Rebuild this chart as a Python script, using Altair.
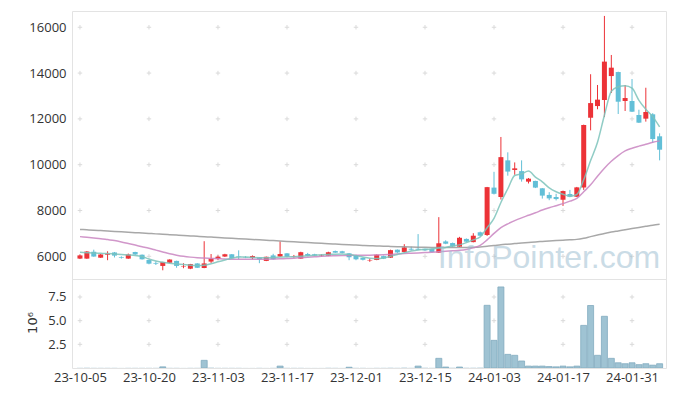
import altair as alt
import pandas as pd

# ---------------- data ----------------
opens = [5900,5900,6200,5940,6070,6170,5960,5900,6190,6070,
         5840,5710,5580,5720,5800,5550,5460,5690,5490,5770,
         5890,5990,6090,6000,5970,5930,5950,5800,6040,5990,
         6130,5990,5900,6100,6090,6030,6020,6230,6220,6130,
         6040,5930,5820,5840,6010,5940,6290,6190,6330,6330,
         6330,6330,6160,6650,6580,6420,6760,6620,7050,6930,
         9000,8590,10190,9770,9720,9260,9290,8970,8680,8590,
         8470,8720,8600,9000,12050,12560,12825,13870,14045,12780,
         12780,12170,12010,12200,11240]
closes = [6040,6210,5990,6080,6120,6030,5930,6080,6080,5870,
          5680,5680,5750,5860,5580,5570,5660,5500,5690,5900,
          5980,6090,5910,5980,5950,6010,5870,5980,5870,6100,
          5990,6010,6180,6020,6030,6050,6180,6160,6150,5960,
          5870,5850,5840,6070,5900,6270,6170,6390,6290,6290,
          6260,6190,6570,6550,6430,6810,6640,6900,6900,9020,
          8730,10330,9700,9840,9360,9390,9000,8650,8530,8500,
          8850,8600,9010,11730,12690,12840,14500,14236,12750,12910,
          12314,11835,12300,11120,10655]
highs = [6080,6230,6290,6100,6220,6190,6000,6120,6200,6080,
         5850,5780,5760,5870,5810,5700,5670,5700,6660,6100,
         6040,6110,6100,6260,6010,6040,5960,5990,6110,6650,
         6140,6060,6200,6150,6110,6090,6200,6250,6240,6140,
         6050,5950,5900,6080,6030,6290,6300,6530,6420,6970,
         6340,6340,7710,6700,6600,6850,6780,7010,7080,9030,
         9690,11210,10540,10100,10190,9420,9300,8980,8800,8730,
         8870,8900,9030,11750,13950,13480,16494,14790,14060,13480,
         13740,12400,13360,12250,11370]
lows = [5880,5890,5980,5930,5830,5950,5900,5890,6060,5860,
        5650,5620,5390,5700,5500,5480,5440,5490,5480,5710,
        5830,5970,5900,5870,5920,5870,5700,5790,5860,5980,
        5980,5940,5890,6000,6010,5990,6010,6150,6130,5830,
        5830,5820,5760,5830,5880,5930,6150,6170,6250,6270,
        6240,6170,6150,6530,6400,6410,6620,6610,6880,6890,
        8700,8480,9520,9560,9260,9180,8980,8520,8450,8440,
        8200,8580,8590,8900,11500,12420,12080,13130,12214,12345,
        12300,11820,11880,10950,10190]
volume_m = [0.02,0.03,0.02,0.02,0.02,0.02,0.01,0.02,0.02,0.02,
            0.02,0.02,0.12,0.02,0.02,0.01,0.02,0.02,0.81,0.04,
            0.02,0.02,0.02,0.02,0.01,0.01,0.02,0.01,0.02,0.20,
            0.02,0.02,0.02,0.01,0.01,0.01,0.02,0.02,0.01,0.08,
            0.02,0.02,0.01,0.02,0.02,0.03,0.02,0.04,0.02,0.20,
            0.03,0.02,1.02,0.10,0.03,0.10,0.03,0.03,0.04,6.62,
            2.92,8.56,1.44,1.34,0.74,0.20,0.20,0.20,0.15,0.12,
            0.20,0.12,0.20,4.50,6.60,1.34,5.46,1.02,0.55,0.45,
            0.55,0.35,0.45,0.30,0.45]
ma5 = [6180,6160,6140,6130,6120,6100,6080,6060,6040,5990,
       5880,5800,5740,5700,5670,5640,5610,5600,5610,5680,
       5760,5840,5920,5970,5970,5950,5940,5935,5945,5965,
       5980,5985,6000,6020,6045,6065,6080,6095,6100,6080,
       6030,5970,5920,5900,5930,6000,6080,6160,6230,6280,
       6300,6320,6360,6390,6450,6500,6600,6720,6850,7250,
       7660,8350,8950,9530,9600,9720,9460,9250,8990,8820,
       8710,8630,8700,9340,10180,10980,12160,13200,13400,13450,
       13340,12810,12420,12100,11650]
ma20 = [6860,6830,6800,6770,6730,6690,6630,6560,6490,6420,
        6350,6270,6190,6110,6050,6000,5965,5940,5925,5910,
        5895,5880,5875,5872,5870,5870,5870,5872,5880,5890,
        5905,5920,5940,5960,5980,6000,6015,6025,6035,6040,
        6045,6045,6050,6060,6070,6085,6100,6120,6135,6150,
        6165,6180,6200,6220,6240,6260,6300,6370,6480,6720,
        7000,7250,7420,7560,7680,7790,7900,8020,8120,8210,
        8300,8410,8530,8820,9120,9500,9850,10150,10400,10600,
        10720,10810,10890,10980,11040]
ma120 = [7175,7157,7140,7122,7104,7087,7069,7051,7034,7016,
         6998,6980,6963,6945,6927,6910,6892,6874,6857,6839,
         6822,6805,6788,6771,6754,6737,6720,6703,6686,6669,
         6652,6635,6618,6601,6584,6567,6550,6534,6518,6503,
         6490,6477,6465,6453,6442,6432,6422,6413,6405,6397,
         6391,6386,6382,6380,6380,6382,6387,6395,6410,6440,
         6470,6505,6530,6555,6580,6605,6630,6650,6670,6688,
         6705,6720,6740,6790,6860,6930,7000,7060,7110,7160,
         7210,7260,7310,7360,7400]

tick_idx = [0, 10, 20, 30, 40, 50, 60, 70, 80]
tick_labels = ['23-10-05', '23-10-20', '23-11-03', '23-11-17', '23-12-01',
               '23-12-15', '24-01-03', '24-01-17', '24-01-31']
price_ticks = [6000, 8000, 10000, 12000, 14000, 16000]
vol_ticks = [2.5, 5.0, 7.5]
vol_title = "10⁶"
watermark = "InfoPointer.com"

RED = "#ec3237"
BLUE = "#62bfd7"
FONT = "Open Sans"

n = len(opens)
df = pd.DataFrame({"i": list(range(n)), "open": opens, "close": closes,
                   "high": highs, "low": lows, "vol": volume_m})
ma_df = pd.DataFrame({"i": list(range(n)), "ma5": ma5, "ma20": ma20, "ma120": ma120})

grid_p = pd.DataFrame([{"i": a, "v": b} for a in tick_idx for b in price_ticks])
grid_v = pd.DataFrame([{"i": a, "v": b} for a in tick_idx for b in vol_ticks])

xscale = alt.Scale(domain=[-0.43, 84.2], nice=False, zero=False)
pscale = alt.Scale(domain=[5010, 16710], nice=False, zero=False)
vscale = alt.Scale(domain=[0, 9.4], nice=False)

W = 594
color_cond = alt.condition("datum.close >= datum.open", alt.value(RED), alt.value(BLUE))
plus = "M-1,0L1,0M0,-1L0,1"

base = alt.Chart(df)

p_grid = alt.Chart(grid_p).mark_point(shape=plus, size=20, filled=False, strokeWidth=1,
                                      color="#dadada", opacity=1).encode(
    x=alt.X("i:Q", scale=xscale, axis=None),
    y=alt.Y("v:Q", scale=pscale,
            axis=alt.Axis(values=price_ticks, format="d", title=None, labelPadding=6,
                          minExtent=63, maxExtent=63)),
)

def ma_line(field, col):
    return alt.Chart(ma_df).mark_line(color=col, strokeWidth=1.5, opacity=0.85,
                                      interpolate="monotone", clip=True).encode(
        x=alt.X("i:Q", scale=xscale, axis=None),
        y=alt.Y(f"{field}:Q", scale=pscale),
    )

wicks = base.mark_rule(strokeWidth=1, clip=True).encode(
    x=alt.X("i:Q", scale=xscale, axis=None),
    y=alt.Y("low:Q", scale=pscale),
    y2="high:Q",
    color=color_cond,
)
bodies = base.mark_bar(width=5, clip=True).encode(
    x=alt.X("i:Q", scale=xscale, axis=None),
    y=alt.Y("open:Q", scale=pscale),
    y2="close:Q",
    color=color_cond,
)
wm = alt.Chart(pd.DataFrame({"t": [watermark]})).mark_text(
    font="Liberation Sans", fontSize=32, color="#9fc0d2", opacity=0.55,
    align="center", baseline="alphabetic").encode(
    text="t:N", x=alt.value(477), y=alt.value(257))

price = alt.layer(p_grid, wicks, bodies,
                  ma_line("ma120", "#999999"), ma_line("ma20", "#c985c1"),
                  ma_line("ma5", "#7cc3bb"), wm).properties(width=W, height=268)

label_arr = "[" + ",".join(f"'{t}'" for t in tick_labels) + "]"

v_grid = alt.Chart(grid_v).mark_point(shape=plus, size=20, filled=False, strokeWidth=1,
                                      color="#dadada", opacity=1).encode(
    x=alt.X("i:Q", scale=xscale,
            axis=alt.Axis(values=tick_idx, labelExpr=f"{label_arr}[round(datum.value/10)]",
                          title=None, labelPadding=3, labelFlush=False, labelOverlap=False)),
    y=alt.Y("v:Q", scale=vscale,
            axis=alt.Axis(values=vol_ticks, format=".1f", title=None,
                          labelPadding=6, minExtent=30, maxExtent=30)),
)
vbars = base.mark_bar(width=6, color="#9fc3d3", stroke="#82abbf", strokeWidth=0.8,
                      clip=True).encode(
    x=alt.X("i:Q", scale=xscale),
    y=alt.Y("vol:Q", scale=vscale),
    strokeOpacity=alt.condition("datum.vol > 0.05", alt.value(1), alt.value(0)),
)
vtitle = alt.Chart(pd.DataFrame({"t": [vol_title]})).mark_text(
    font="DejaVu Sans", fontSize=13, color="#333", angle=270,
    align="center", baseline="middle").encode(
    text="t:N", x=alt.value(-39), y=alt.value(44))
volume = alt.layer(v_grid, vbars, vtitle).properties(width=W, height=89)

chart = alt.vconcat(price, volume, spacing=0, bounds="flush").properties(
    padding={"left": 0, "top": 2, "right": 0, "bottom": 0}
).configure_axis(
    labelFont=FONT, labelFontSize=13, labelColor="#333", grid=False, ticks=False, domain=False
).configure_view(stroke="#e3e3e3")

chart.save("out.html", embed_options={"renderer": "svg", "actions": False})
